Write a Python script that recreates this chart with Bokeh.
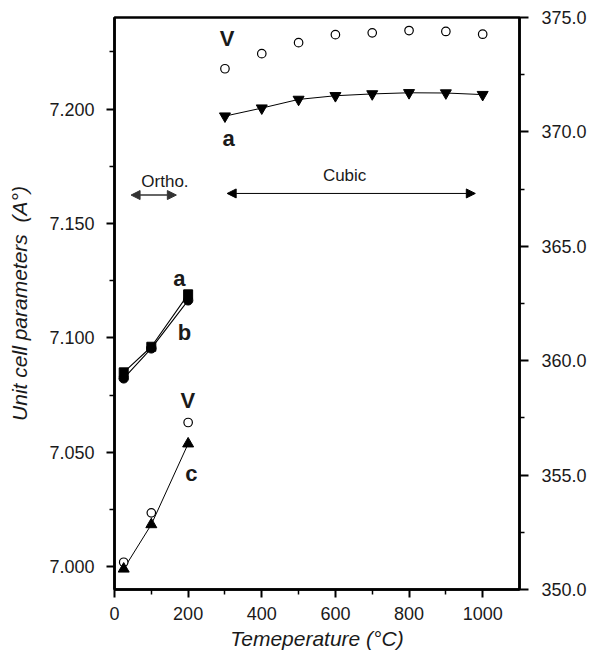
from bokeh.plotting import figure
from bokeh.models import Range1d, LinearAxis, FixedTicker, NumeralTickFormatter, Arrow, NormalHead, Label
from bokeh.embed import file_html
from bokeh.resources import INLINE

# ---- data ----
temp_ortho = [25, 100, 200]
a_ortho = [7.0849, 7.0961, 7.1190]
b_ortho = [7.0823, 7.0954, 7.1164]
c_ortho = [6.9990, 7.0184, 7.0537]
V_ortho = [351.19, 353.35, 357.30]

temp_cubic = [300, 400, 500, 600, 700, 800, 900, 1000]
a_cubic = [7.1969, 7.2004, 7.2042, 7.2058, 7.2066, 7.2071, 7.2070, 7.2063]
V_cubic = [372.76, 373.42, 373.90, 374.25, 374.33, 374.43, 374.39, 374.27]

x_ticks = [0, 200, 400, 600, 800, 1000]
x_minor = [100, 300, 500, 700, 900]
left_ticks = [7.000, 7.050, 7.100, 7.150, 7.200]
left_minor = [7.025, 7.075, 7.125, 7.175, 7.225]
right_ticks = [350, 355, 360, 365, 370, 375]
right_minor = [352.5, 357.5, 362.5, 367.5, 372.5]

FONT = "Liberation Sans"
INK = "#1a1a1a"

p = figure(width=593, height=653, x_range=Range1d(0, 1100), y_range=Range1d(6.99, 7.24),
           output_backend="svg", toolbar_location=None,
           min_border_left=114, min_border_right=74, min_border_top=17, min_border_bottom=64)
p.extra_y_ranges = {"right": Range1d(350, 375)}
p.grid.visible = False
p.background_fill_color = "white"
p.border_fill_color = "white"
p.outline_line_color = "black"
p.outline_line_width = 2.5

def style_axis(ax):
    ax.axis_line_width = 2.5
    ax.axis_line_color = "black"
    ax.major_tick_line_width = 2
    ax.minor_tick_line_width = 1.5
    ax.major_tick_line_color = "black"
    ax.minor_tick_line_color = "black"
    ax.major_tick_out = 8
    ax.major_tick_in = 0
    ax.minor_tick_out = 5
    ax.minor_tick_in = 0
    ax.major_label_text_font = FONT
    ax.major_label_text_font_size = "18px"
    ax.major_label_text_color = INK
    ax.axis_label_text_font = FONT
    ax.axis_label_text_font_size = "21px"
    ax.axis_label_text_font_style = "italic"
    ax.axis_label_text_color = INK

xa = p.xaxis[0]
style_axis(xa)
xa.ticker = FixedTicker(ticks=x_ticks, minor_ticks=x_minor)
xa.major_label_standoff = 9
xa.axis_label = "Temeperature (°C)"
xa.axis_label_standoff = 4

ya = p.yaxis[0]
style_axis(ya)
ya.ticker = FixedTicker(ticks=left_ticks, minor_ticks=left_minor)
ya.formatter = NumeralTickFormatter(format="0.000")
ya.major_label_standoff = 12
ya.axis_label = "Unit cell parameters\u00a0\u00a0(A°)"
ya.axis_label_standoff = 15

ra = LinearAxis(y_range_name="right")
style_axis(ra)
ra.major_tick_out = 9
ra.ticker = FixedTicker(ticks=right_ticks, minor_ticks=right_minor)
ra.formatter = NumeralTickFormatter(format="0.0")
ra.major_label_standoff = 13
p.add_layout(ra, "right")

# ---- orthorhombic ----
p.line(temp_ortho, a_ortho, line_color="black", line_width=1.1)
p.line(temp_ortho, b_ortho, line_color="black", line_width=1.1)
p.line(temp_ortho, c_ortho, line_color="black", line_width=1)
p.scatter(temp_ortho, a_ortho, marker="square", size=9, fill_color="black", line_color="black")
p.scatter(temp_ortho, b_ortho, marker="circle", size=9.5, fill_color="black", line_color="black")
p.scatter(temp_ortho, V_ortho, y_range_name="right", marker="circle", size=8.5,
          fill_color="white", line_color="black", line_width=1.2)
p.scatter(temp_ortho, c_ortho, marker="triangle", size=11, fill_color="black", line_color="black")

# ---- cubic ----
p.line(temp_cubic, a_cubic, line_color="black", line_width=1)
p.scatter(temp_cubic, a_cubic, marker="inverted_triangle", size=11, fill_color="black", line_color="black")
p.scatter(temp_cubic, V_cubic, y_range_name="right", marker="circle", size=8.5,
          fill_color="white", line_color="black", line_width=1.2)

# ---- phase arrows ----
p.add_layout(Arrow(x_start=45, y_start=7.1624, x_end=168, y_end=7.1624,
                   start=NormalHead(size=9, fill_color="#333", line_color="#333"),
                   end=NormalHead(size=9, fill_color="#333", line_color="#333"),
                   line_color="#333", line_width=1.5))
p.add_layout(Arrow(x_start=306, y_start=7.1631, x_end=980, y_end=7.1631,
                   start=NormalHead(size=9, fill_color="black", line_color="black"),
                   end=NormalHead(size=9, fill_color="black", line_color="black"),
                   line_color="black", line_width=1))

def lab(x, y, t, size, bold=False):
    p.add_layout(Label(x=x, y=y, text=t, text_align="center", text_baseline="middle",
                       text_font=FONT, text_font_size=size, text_color=INK,
                       text_font_style="bold" if bold else "normal"))

lab(137, 7.1682, "Ortho.", "17px")
lab(625, 7.1711, "Cubic", "17px")
lab(306, 7.2309, "V", "22px", True)
lab(310, 7.1872, "a", "22px", True)
lab(176, 7.1260, "a", "22px", True)
lab(190, 7.1024, "b", "22px", True)
lab(199, 7.0726, "V", "22px", True)
lab(209, 7.0407, "c", "22px", True)

open("out.html", "w").write(file_html(p, INLINE))
